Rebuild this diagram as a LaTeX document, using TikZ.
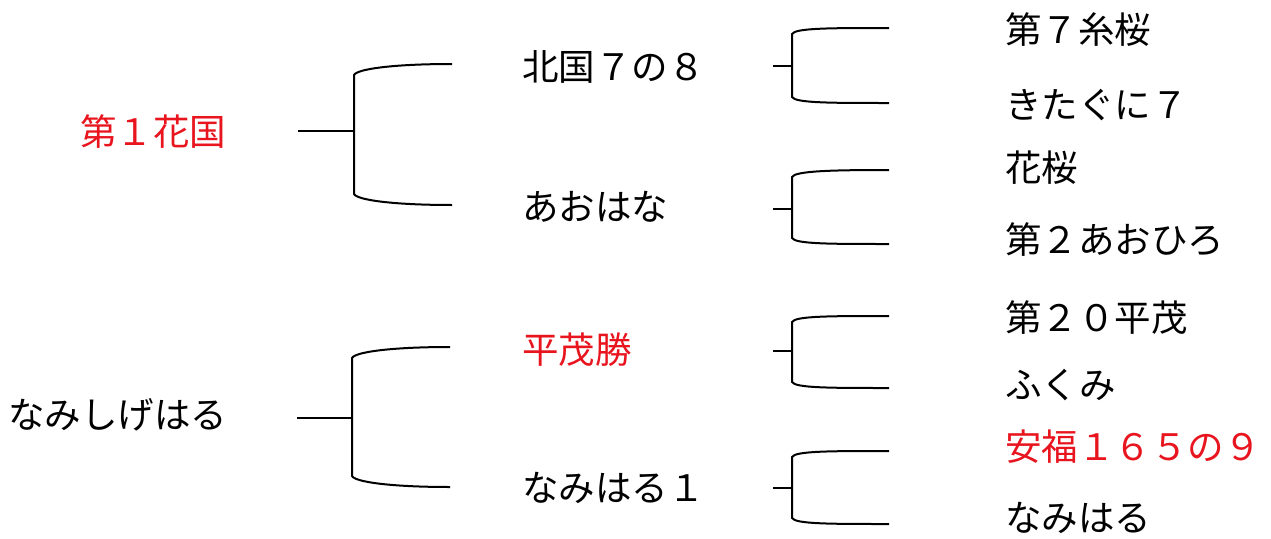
\documentclass[tikz,border=0pt]{standalone}
\usepackage{fontspec}
\setmainfont{Noto Sans CJK JP}
\definecolor{pedred}{RGB}{232,20,30}
\newcommand\pbracket[8]{%
  % #1 stub x, #2 vertical x, #3 end x, #4 stub y, #5 top vertical y, #6 top end y, #7 bottom vertical y, #8 bottom end y
  \coordinate (s) at (#1,#4);
  \coordinate (m) at (#2,#4);
  \coordinate (vt) at (#2,#5);
  \coordinate (vb) at (#2,#7);
  \coordinate (et) at (#3,#6);
  \coordinate (eb) at (#3,#8);
  \draw[bline] (s) -- (m);
  \draw[bline] (et) .. controls ($(et)!0.6!(#2,#6)$) and ($(vt)+(3,-6)$) .. (vt) -- (vb)
     .. controls ($(vb)+(3,6)$) and ($(eb)!0.6!(#2,#8)$) .. (eb);
}
\usetikzlibrary{calc}
\begin{document}
\begin{tikzpicture}[x=1pt,y=-1pt,
  bline/.style={line width=2pt,black},
  lbl/.style={anchor=west,inner sep=0pt,font=\fontsize{36.5}{40}\selectfont},
  red/.style={text=pedred}]
\useasboundingbox (0,0) rectangle (1271,538);
% level 0
\node[lbl,red] (a) at (80,132) {第１花国};
\node[lbl] (b) at (8,415) {なみしげはる};
% level 1
\node[lbl] (a1) at (522,67) {北国７の８};
\node[lbl] (a2) at (522,207) {あおはな};
\node[lbl,red] (b1) at (522,350) {平茂勝};
\node[lbl] (b2) at (522,488) {なみはる１};
% level 2
\node[lbl] (c1) at (1005,30) {第７糸桜};
\node[lbl] (c2) at (1005,105) {きたぐに７};
\node[lbl] (c3) at (1005,168) {花桜};
\node[lbl] (c4) at (1005,240) {第２あおひろ};
\node[lbl] (c5) at (1005,318) {第２０平茂};
\node[lbl] (c6) at (1005,385) {ふくみ};
\node[lbl,red] (c7) at (1005,447) {安福１６５の９};
\node[lbl] (c8) at (1005,518) {なみはる};
% brackets
\pbracket{298}{354}{452}{131}{75}{64}{194}{205}
\pbracket{297}{352}{450}{418}{358}{347}{476}{487}
\pbracket{773}{792}{889}{66}{34}{28}{97}{103}
\pbracket{773}{792}{889}{209}{177}{170}{238}{244}
\pbracket{773}{792}{889}{351}{322}{316}{382}{388}
\pbracket{773}{792}{889}{488}{457}{451}{518}{524}
\end{tikzpicture}
\end{document}
